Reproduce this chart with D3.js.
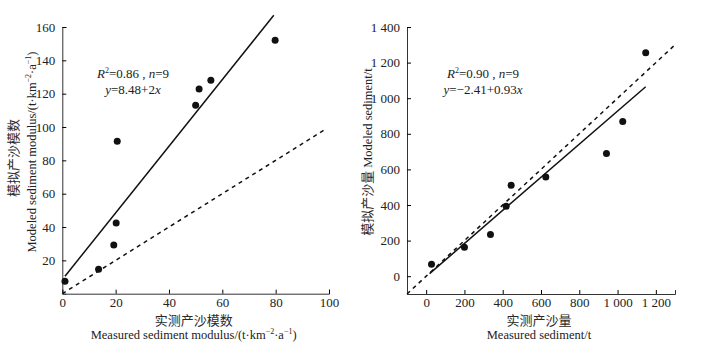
<!DOCTYPE html>
<html>
<head>
<meta charset="utf-8">
<script src="https://cdn.jsdelivr.net/npm/d3@7"></script>
<style>
  body { margin: 0; background: #fff; }
  text { font-family: "Liberation Serif", "DejaVu Serif", "Noto Sans CJK SC", serif; fill: #222; }
  .cjk { font-family: "Noto Sans CJK SC", sans-serif; font-weight: 400; fill: #2a2a2a; }
</style>
</head>
<body>
<div id="chart"></div>
<script>
// left panel: sediment modulus
const modMeasured = [1, 13.6, 19.3, 20.2, 20.6, 50, 51.3, 55.7, 79.8];
const modModeled = [7.4, 14.6, 29.2, 42.4, 91.4, 113, 122.8, 128, 152];
const modFit = { a: 8.48, b: 2, x0: 1, x1: 79.3 };
const modXTicks = [0, 20, 40, 60, 80, 100];
const modYTicks = [20, 40, 60, 80, 100, 120, 140, 160];

// right panel: sediment amount
const sedMeasured = [28, 200, 336, 418, 444, 625, 942, 1027, 1147];
const sedModeled = [67, 163, 234, 393, 511, 558, 689, 869, 1255];
const sedFit = { a: -2.41, b: 0.93, x0: 18, x1: 1147 };
const sedXTicks = [0, 200, 400, 600, 800, 1000, 1200];
const sedYTicks = [0, 200, 400, 600, 800, 1000, 1200, 1400];

const svg = d3.select("#chart")
  .append("svg")
  .attr("width", 711)
  .attr("height", 345);

const fmt = d => d3.format(",")(d).replace(",", " ");

function panel(opt) {
  const x = d3.scaleLinear().domain(opt.xDomain).range(opt.xRange);
  const y = d3.scaleLinear().domain(opt.yDomain).range(opt.yRange);
  const g = svg.append("g");

  const xAxis = d3.axisBottom(x).tickValues(opt.xTicks).tickSize(-4).tickPadding(4).tickFormat(fmt);
  g.append("g")
    .attr("transform", "translate(0," + opt.yRange[0] + ")")
    .call(xAxis)
    .attr("font-family", null)
    .call(s => s.selectAll("text").attr("font-size", 13))
    .call(s => s.select(".domain").attr("stroke", "#333"));

  const yAxis = d3.axisLeft(y).tickValues(opt.yTicks).tickSize(-4).tickPadding(7).tickFormat(fmt);
  g.append("g")
    .attr("transform", "translate(" + opt.xRange[0] + ",0)")
    .call(yAxis)
    .attr("font-family", null)
    .call(s => s.selectAll("text").attr("font-size", 13))
    .call(s => s.select(".domain").attr("stroke", "#333"));

  // 1:1 line
  g.append("line")
    .attr("x1", x(opt.oneToOne[0])).attr("y1", y(opt.oneToOne[0]))
    .attr("x2", x(opt.oneToOne[1])).attr("y2", y(opt.oneToOne[1]))
    .attr("stroke", "#111").attr("stroke-width", 1.5)
    .attr("stroke-dasharray", "4,4");

  // fitted line
  const f = opt.fit;
  g.append("line")
    .attr("x1", x(f.x0)).attr("y1", y(f.a + f.b * f.x0))
    .attr("x2", x(f.x1)).attr("y2", y(f.a + f.b * f.x1))
    .attr("stroke", "#111").attr("stroke-width", 1.5);

  g.selectAll("circle")
    .data(opt.xs)
    .enter()
      .append("circle")
        .attr("cx", d => x(d))
        .attr("cy", (d, i) => y(opt.ys[i]))
        .attr("r", 3.5)
        .attr("fill", "#111");

  // R2 and equation
  const t1 = g.append("text").attr("x", opt.noteX).attr("y", 78)
    .attr("text-anchor", "middle").attr("font-size", 13);
  t1.append("tspan").attr("font-style", "italic").text("R");
  t1.append("tspan").attr("font-size", 8).attr("dy", -5).text("2");
  t1.append("tspan").attr("dy", 5).text("=" + opt.r2 + " , ");
  t1.append("tspan").attr("font-style", "italic").text("n");
  t1.append("tspan").text("=9");

  const t2 = g.append("text").attr("x", opt.noteX).attr("y", 94)
    .attr("text-anchor", "middle").attr("font-size", 13);
  t2.append("tspan").attr("font-style", "italic").text("y");
  t2.append("tspan").text(opt.eq);
  t2.append("tspan").attr("font-style", "italic").text("x");

  // x titles
  const cx = (opt.xRange[0] + opt.xRange[1]) / 2;
  g.append("text").attr("class", "cjk").attr("x", cx - 2).attr("y", 325)
    .attr("text-anchor", "middle").attr("font-size", 13).text(opt.xCn);
  const xe = g.append("text").attr("x", cx - 2).attr("y", 339)
    .attr("text-anchor", "middle").attr("font-size", 12.5);
  opt.xEn(xe);

  return g;
}

function unitParts(t) {
  t.append("tspan").text("(t·km");
  t.append("tspan").attr("font-size", 8).attr("dy", -5).text("−2");
  t.append("tspan").attr("dy", 5).text("·a");
  t.append("tspan").attr("font-size", 8).attr("dy", -5).text("−1");
  t.append("tspan").attr("dy", 5).text(")");
}

panel({
  xDomain: [0, 100], xRange: [62.3, 329],
  yDomain: [0, 160], yRange: [293.7, 27],
  xTicks: modXTicks, yTicks: modYTicks,
  xs: modMeasured, ys: modModeled,
  fit: modFit, oneToOne: [0, 99],
  noteX: 133, r2: "0.86", eq: "=8.48+2",
  xCn: "实测产沙模数",
  xEn: t => { t.append("tspan").text("Measured sediment modulus/"); unitParts(t); }
});

panel({
  xDomain: [-100, 1300], xRange: [407, 675],
  yDomain: [-100, 1400], yRange: [294, 27],
  xTicks: sedXTicks, yTicks: sedYTicks,
  xs: sedMeasured, ys: sedModeled,
  fit: sedFit, oneToOne: [-100, 1300],
  noteX: 483, r2: "0.90", eq: "=−2.41+0.93",
  xCn: "实测产沙量",
  xEn: t => t.text("Measured sediment/t")
});

// y titles
svg.append("text").attr("class", "cjk")
  .attr("transform", "translate(18,158) rotate(-90)")
  .attr("text-anchor", "middle").attr("font-size", 13).text("模拟产沙模数");
const ye = svg.append("text")
  .attr("transform", "translate(36,152) rotate(-90)")
  .attr("text-anchor", "middle").attr("font-size", 12.5);
ye.append("tspan").text("Modeled sediment modulus/");
unitParts(ye);

const yr = svg.append("text")
  .attr("transform", "translate(372,152) rotate(-90)")
  .attr("text-anchor", "middle").attr("font-size", 12.5);
yr.append("tspan").attr("class", "cjk").attr("font-size", 13).text("模拟产沙量 ");
yr.append("tspan").text("Modeled sediment/t");
</script>
</body>
</html>
